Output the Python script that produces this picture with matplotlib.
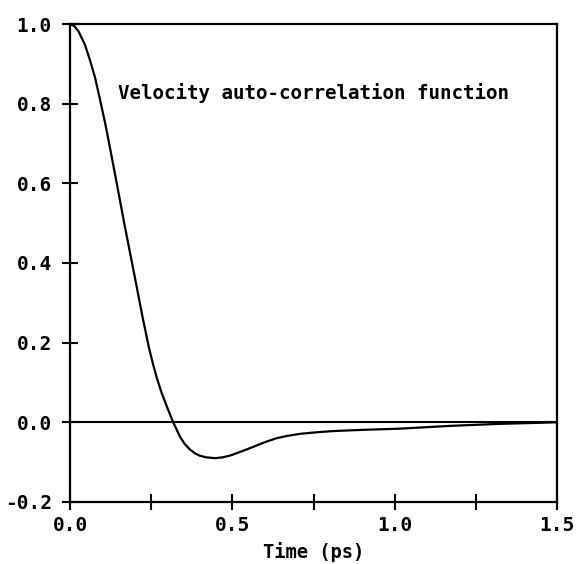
import matplotlib
matplotlib.use('Agg')
import matplotlib.pyplot as plt
import numpy as np

# values
time_ps = [0.0, 0.013, 0.026, 0.046, 0.062, 0.077, 0.092, 0.108, 0.126, 0.144,
           0.167, 0.185, 0.205, 0.224, 0.243, 0.256, 0.269, 0.283, 0.30, 0.318,
           0.338, 0.353, 0.369, 0.385, 0.40, 0.42, 0.446, 0.47, 0.495, 0.525,
           0.554, 0.60, 0.636, 0.67, 0.708, 0.76, 0.81, 0.90, 1.015, 1.17,
           1.32, 1.5]
vacf = [1.0, 0.995, 0.982, 0.948, 0.908, 0.866, 0.812, 0.752, 0.677, 0.6,
        0.5, 0.425, 0.342, 0.262, 0.188, 0.145, 0.107, 0.072, 0.036, 0.0,
        -0.035, -0.054, -0.068, -0.078, -0.084, -0.088, -0.090, -0.088, -0.083, -0.074,
        -0.065, -0.050, -0.040, -0.034, -0.029, -0.025, -0.022, -0.019, -0.016, -0.009,
        -0.004, 0.0]

xticks = [0.0, 0.25, 0.5, 0.75, 1.0, 1.25, 1.5]
xticklabels = ['0.0', '', '0.5', '', '1.0', '', '1.5']
yticks = [-0.2, 0.0, 0.2, 0.4, 0.6, 0.8, 1.0]
yticklabels = ['-0.2', '0.0', '0.2', '0.4', '0.6', '0.8', '1.0']
label_text = 'Velocity auto-correlation function'

font = dict(family='DejaVu Sans Mono', weight='bold')

fig = plt.figure(figsize=(5.81, 5.64), dpi=100)
ax = fig.add_axes([0.1205, 0.110, 0.8382, 0.8474])

ax.plot(time_ps, vacf, color='black', lw=1.6)
ax.axhline(0.0, color='black', lw=1.5)

ax.set_xlim(0, 1.5)
ax.set_ylim(-0.2, 1.0)

for side in ['left', 'right', 'top', 'bottom']:
    ax.spines[side].set_linewidth(1.6)

ax.set_xticks(xticks)
ax.set_xticklabels(xticklabels, fontsize=14, **font)
ax.set_yticks(yticks)
ax.set_yticklabels(yticklabels, fontsize=14, **font)
ax.tick_params(direction='inout', length=11, width=1.5, color='black')
ax.tick_params(axis='x', pad=4.5)
ax.tick_params(axis='y', pad=7.5)

ax.set_xlabel('Time (ps)', fontsize=13.5, labelpad=5, **font)
ax.text(0.148, 0.827, label_text, fontsize=13.8, va='center', ha='left', **font)

fig.savefig('out.png', dpi=100)
